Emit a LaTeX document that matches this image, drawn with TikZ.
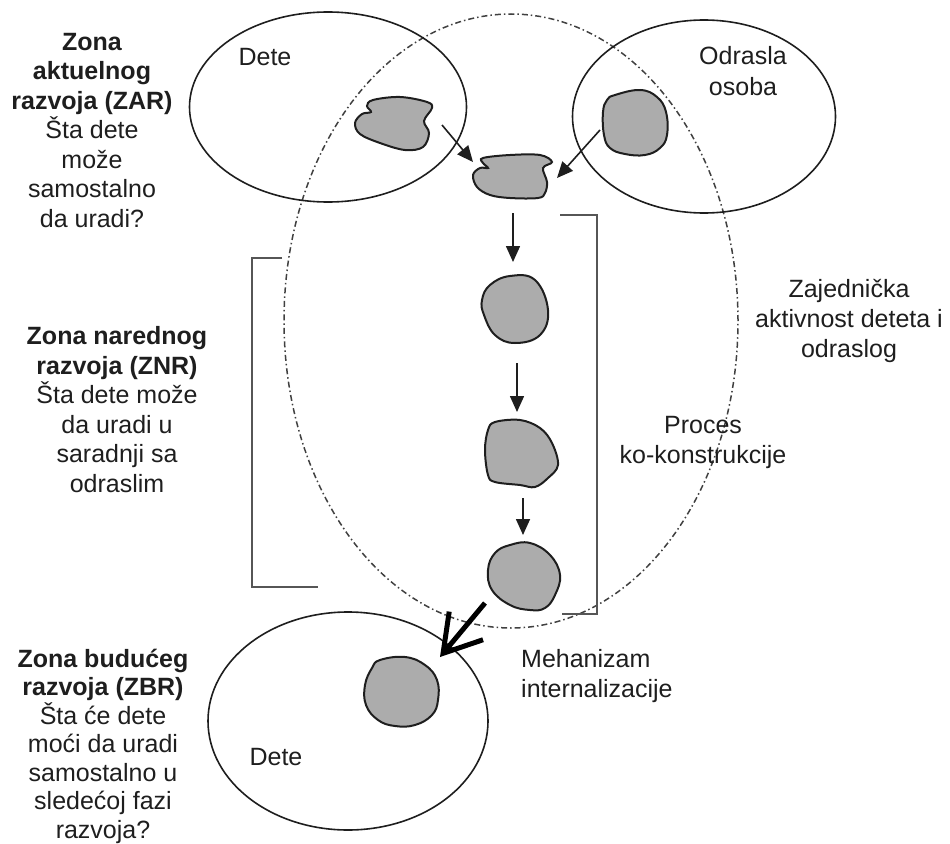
\documentclass[tikz,border=0pt]{standalone}
\usepackage{fontspec}
\setmainfont{Liberation Sans}
\usetikzlibrary{arrows.meta,shapes.geometric}
\definecolor{blobfill}{RGB}{172,172,172}
\definecolor{ink}{RGB}{30,30,30}
\begin{document}
\begin{tikzpicture}[x=1pt,y=-1pt,
  zone/.style={draw=ink, line width=1.6pt, ellipse, inner sep=0pt},
  bigzone/.style={draw=ink!85, line width=1.5pt, ellipse, inner sep=0pt, dash pattern=on 6pt off 3pt on 1.5pt off 3pt},
  blob/.style={draw=ink, line width=2pt, fill=blobfill},
  arr/.style={draw=ink, line width=1.6pt, -{Triangle[length=16pt,width=14pt]}},
  bigarr/.style={draw=black, line width=5pt, -{Straight Barb[length=36pt,width=44pt]}},
  bracket/.style={draw=ink!75, line width=2pt},
  lbl/.style={font=\fontsize{25}{29.5}\selectfont, align=center, inner sep=0pt, anchor=base, text=ink},
]
\useasboundingbox (0,0) rectangle (950,843);

% zones
\node[bigzone, minimum width=454pt, minimum height=614pt] (common) at (511,321) {};
\node[zone, minimum width=277pt, minimum height=190pt] (zonechild) at (328,107) {};
\node[zone, minimum width=263pt, minimum height=193pt] (zoneadult) at (704,116.5) {};
\node[zone, minimum width=280pt, minimum height=218pt] (zonefuture) at (348,721) {};

% blobs
\draw[blob] plot[smooth cycle, tension=0.6] coordinates {(373,100) (400,97) (427,102) (432,108) (424,121) (429,133) (423,147) (405,150) (380,143) (360,134) (355,123) (362,114) (371,112) (367,106)};
\draw[blob] plot[smooth cycle, tension=0.6] coordinates {(483,158) (510,155) (540,155) (552,162) (543,168) (547,182) (545,193) (538,198) (510,198) (490,195) (477,187) (473,175) (480,168) (488,168) (483,163)};
\draw[blob] plot[smooth cycle, tension=0.7] coordinates {(615,95) (640,90) (657,97) (666,112) (667,135) (660,148) (645,155) (625,154) (610,148) (604,135) (603,112) (607,100)};
\draw[blob] plot[smooth cycle, tension=0.7] coordinates {(490,285) (510,276) (535,280) (548,310) (540,335) (515,343) (495,335) (484,315) (482,300)};
\draw[blob] plot[smooth cycle, tension=0.6] coordinates {(495,422) (520,420) (540,428) (552,443) (558,465) (548,478) (535,487) (520,485) (495,482) (488,475) (485,450) (488,430)};
\draw[blob] plot[smooth cycle, tension=0.7] coordinates {(510,545) (530,543) (550,555) (560,575) (555,595) (545,608) (530,610) (510,605) (492,590) (488,570) (495,553)};
\draw[blob] plot[smooth cycle, tension=0.7] coordinates {(380,660) (405,657) (425,665) (437,680) (438,700) (432,715) (415,725) (395,726) (378,720) (366,705) (365,685) (372,668)};

% arrows
\coordinate (a1s) at (442,125); \coordinate (a1e) at (473,162);
\coordinate (a2s) at (600,130); \coordinate (a2e) at (557,178);
\coordinate (a3s) at (513,213); \coordinate (a3e) at (513,262);
\coordinate (a4s) at (517,363); \coordinate (a4e) at (517,412);
\coordinate (a5s) at (523,498); \coordinate (a5e) at (523,535);
\coordinate (a6s) at (485,603); \coordinate (a6e) at (440,657);
\draw[arr] (a1s) -- (a1e);
\draw[arr] (a2s) -- (a2e);
\draw[arr] (a3s) -- (a3e);
\draw[arr] (a4s) -- (a4e);
\draw[arr] (a5s) -- (a5e);
\draw[bigarr] (a6s) -- (a6e);

% brackets
\draw[bracket] (282,258) -- (252,258) -- (252,587) -- (318,587);
\draw[bracket] (560,215) -- (597,215) -- (597,614) -- (562,614);

% texts (anchor base = baseline of last line)
\node[lbl] (zar) at (92,227) {\textbf{Zona}\\\textbf{aktuelnog}\\\textbf{razvoja (ZAR)}\\Šta dete\\može\\samostalno\\da uradi?};
\node[lbl] (znr) at (117,492) {\textbf{Zona narednog}\\\textbf{razvoja (ZNR)}\\Šta dete može\\da uradi u\\saradnji sa\\odraslim};
\node[lbl, font=\fontsize{25}{28.5}\selectfont] (zbr) at (103,838) {\textbf{Zona budućeg}\\\textbf{razvoja (ZBR)}\\Šta će dete\\moći da uradi\\samostalno u\\sledećoj fazi\\razvoja?};
\node[lbl] (childtxt) at (265,66) {Dete};
\node[lbl, font=\fontsize{25}{30}\selectfont] (adulttxt) at (743,95) {Odrasla\\osoba};
\node[lbl, font=\fontsize{25}{30}\selectfont] (jointtxt) at (849,357) {Zajednička\\aktivnost deteta i\\odraslog};
\node[lbl, font=\fontsize{25}{30}\selectfont] (proctxt) at (703,463) {Proces\\ko-konstrukcije};
\node[lbl, align=left, anchor=base west] (mehtxt) at (521,697) {Mehanizam\\internalizacije};
\node[lbl] (futuretxt) at (276,765) {Dete};
\end{tikzpicture}
\end{document}
